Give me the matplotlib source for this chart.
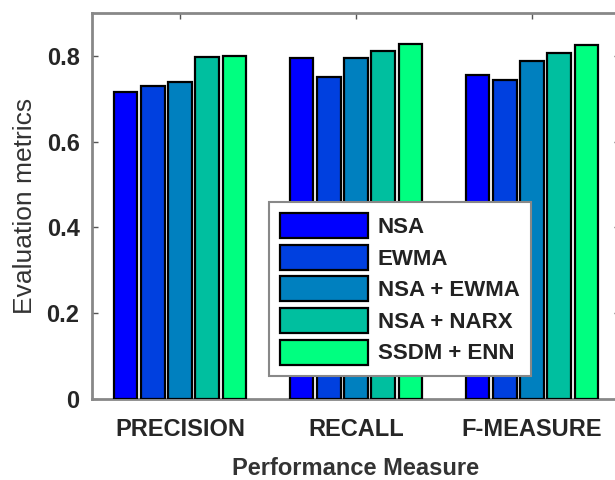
import numpy as np
import matplotlib
matplotlib.use("Agg")
import matplotlib.pyplot as plt

categories = ["PRECISION", "RECALL", "F-MEASURE"]
methods = ["NSA", "EWMA", "NSA + EWMA", "NSA + NARX", "SSDM + ENN"]
nsa = [0.715, 0.795, 0.756]
ewma = [0.730, 0.750, 0.744]
nsa_ewma = [0.740, 0.795, 0.787]
nsa_narx = [0.798, 0.812, 0.806]
ssdm_enn = [0.800, 0.827, 0.826]
series = [nsa, ewma, nsa_ewma, nsa_narx, ssdm_enn]
yticks = [0, 0.2, 0.4, 0.6, 0.8]
ytick_labels = ["0", "0.2", "0.4", "0.6", "0.8"]

colors = [(0, 0, 1), (0, 0.25, 0.875), (0, 0.5, 0.75), (0, 0.75, 0.625), (0, 1, 0.5)]

plt.rcParams['font.family'] = ['Liberation Sans', 'DejaVu Sans']

fig = plt.figure(figsize=(6.15, 4.8), dpi=100)
ax = fig.add_axes([92/615, (480-399)/480, 528/615, (399-13)/480])

x = np.arange(1, len(categories) + 1)
pitch = 0.155
width = 0.134
for i, (vals, c, name) in enumerate(zip(series, colors, methods)):
    ax.bar(x + (i - 2) * pitch, vals, width, color=c, edgecolor='black',
           linewidth=1.6, label=name, zorder=3)

ax.set_xlim(0.5, 3.5)
ax.set_ylim(0, 0.9)
ax.set_xticks(x)
ax.set_xticklabels(categories, fontsize=17, fontweight='bold', color='#262626')
ax.set_yticks(yticks)
ax.set_yticklabels(ytick_labels, fontsize=17, fontweight='bold', color='#262626')
ax.tick_params(axis='both', direction='in', length=4, width=1, colors='#555555',
               top=True, right=True)
ax.tick_params(axis='x', pad=14, labelcolor='#262626')
ax.tick_params(axis='y', pad=9, labelcolor='#262626')
for s in ax.spines.values():
    s.set_color('#888888')
    s.set_linewidth(2)

ax.set_xlabel("Performance Measure", fontsize=17, fontweight='bold', color='#333333', labelpad=11)
ax.set_ylabel("Evaluation metrics", fontsize=19, color='#333333', labelpad=7)

leg = ax.legend(loc='upper left', bbox_to_anchor=(269/615, 1-202/480),
                bbox_transform=fig.transFigure, borderaxespad=0,
                prop={'size': 16, 'weight': 'bold'}, handlelength=3.95,
                handleheight=1.35, labelspacing=0.3, handletextpad=0.45,
                borderpad=0.5, fancybox=False, framealpha=1, edgecolor='#888888')
leg.get_frame().set_linewidth(1.5)
for t in leg.get_texts():
    t.set_color('#222222')

fig.savefig("out.png", dpi=100)
